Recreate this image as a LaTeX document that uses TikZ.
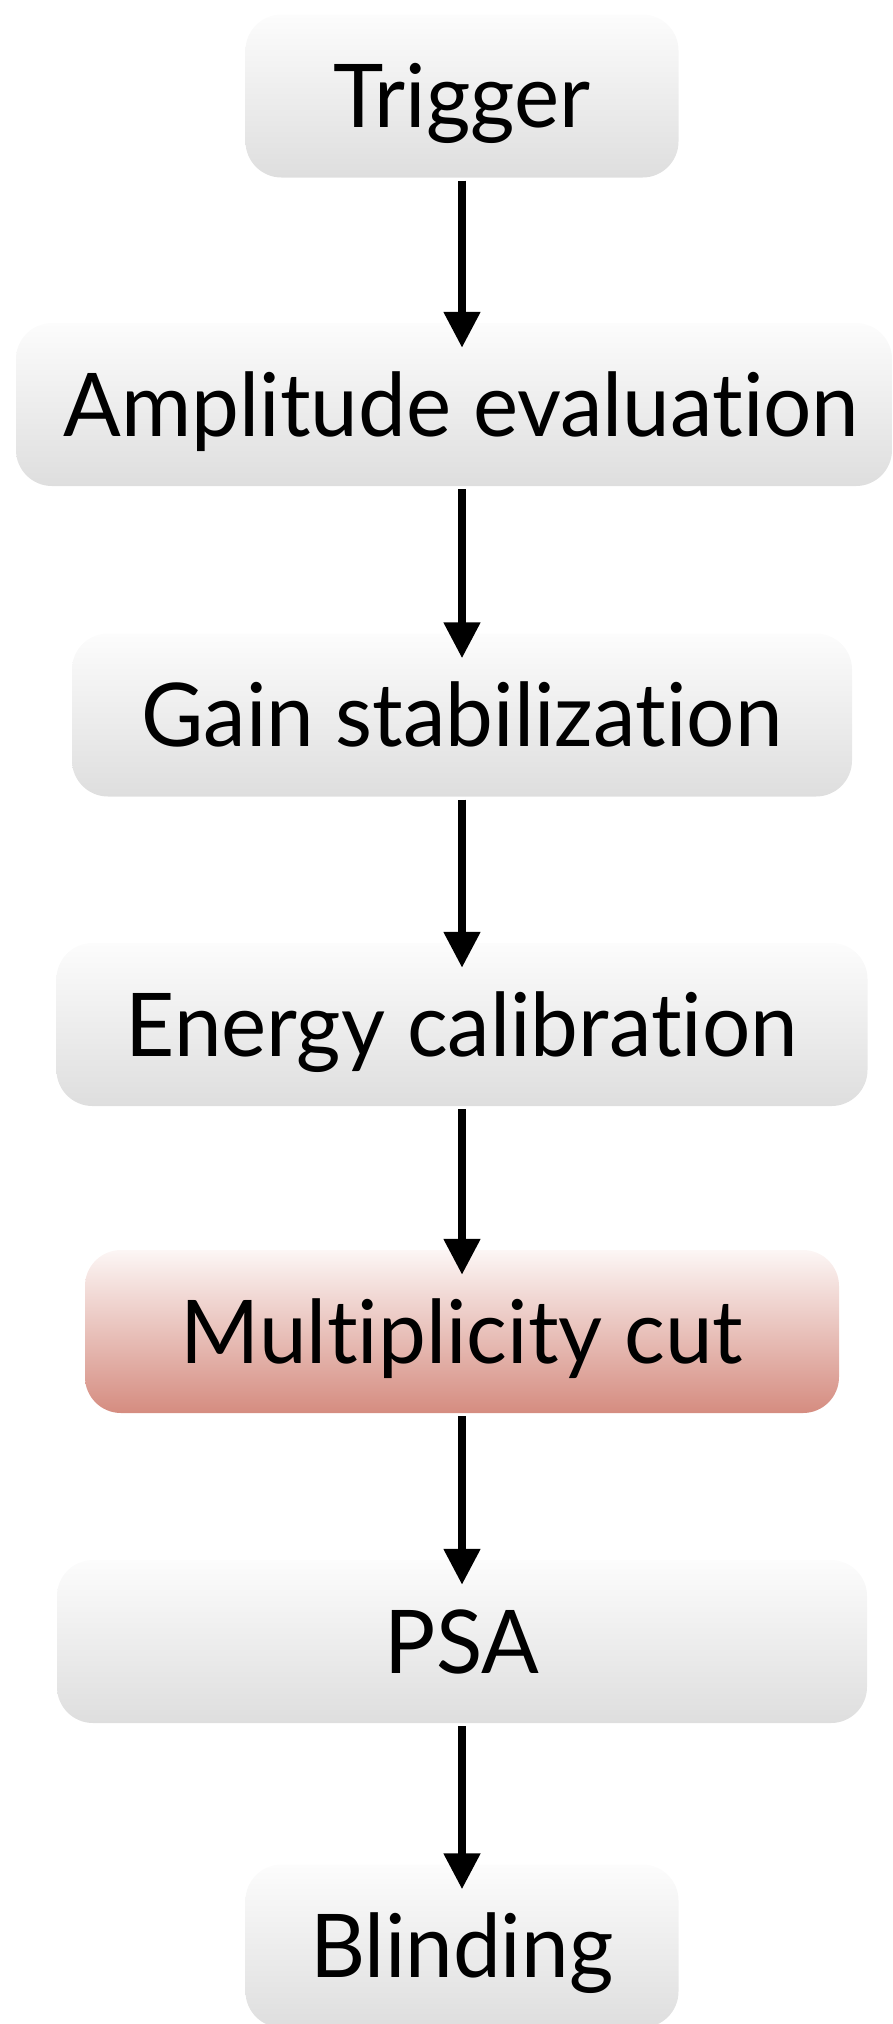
\documentclass[tikz,border=0pt]{standalone}
\usepackage{fontspec}
\setmainfont{Lato}[FakeStretch=0.97,Ligatures=NoCommon]
\usetikzlibrary{arrows.meta}
\definecolor{gtop}{RGB}{252,252,252}
\definecolor{gbot}{RGB}{222,222,222}
\definecolor{rtop}{RGB}{252,246,245}
\definecolor{rbot}{RGB}{213,140,128}
\begin{document}
\begin{tikzpicture}[x=1pt,y=-1pt,
  stepbox/.style={rectangle, rounded corners=36pt, top color=gtop, bottom color=gbot,
    minimum height=163pt, inner sep=0pt, text height=63pt, text depth=0pt,
    font=\fontsize{88}{100}\selectfont},
  redbox/.style={stepbox, top color=rtop, bottom color=rbot},
  flow/.style={line width=8pt, -{Triangle[length=36pt,width=35pt]}}]
\useasboundingbox (0,0) rectangle (892,2024);
\clip (0,0) rectangle (892,2024);
\node[stepbox, minimum width=433pt] (trig) at (462,96) {Trigger};
\node[stepbox, minimum width=876pt] (amp) at (454,404.5) {\kern15pt Amplitude evaluation};
\node[stepbox, minimum width=780pt] (gain) at (462,715) {Gain stabilization};
\node[stepbox, minimum width=811pt] (ener) at (462,1024.5) {Energy calibration};
\node[redbox, minimum width=754pt] (mult) at (462,1331.5) {Multiplicity cut};
\node[stepbox, minimum width=810pt] (psa) at (462,1641.5) {PSA};
\node[stepbox, minimum width=433pt] (blind) at (462,1946) {Blinding};
\draw[flow] ([yshift=-3pt]trig.south) -- ([yshift=-25pt]trig.south |- amp.north);
\draw[flow] ([yshift=-3pt]trig.south |- amp.south) -- ([yshift=-25pt]gain.north);
\draw[flow] ([yshift=-3pt]gain.south) -- ([yshift=-25pt]ener.north);
\draw[flow] ([yshift=-3pt]ener.south) -- ([yshift=-25pt]mult.north);
\draw[flow] ([yshift=-3pt]mult.south) -- ([yshift=-25pt]psa.north);
\draw[flow] ([yshift=-3pt]psa.south) -- ([yshift=-25pt]blind.north);
\end{tikzpicture}
\end{document}
